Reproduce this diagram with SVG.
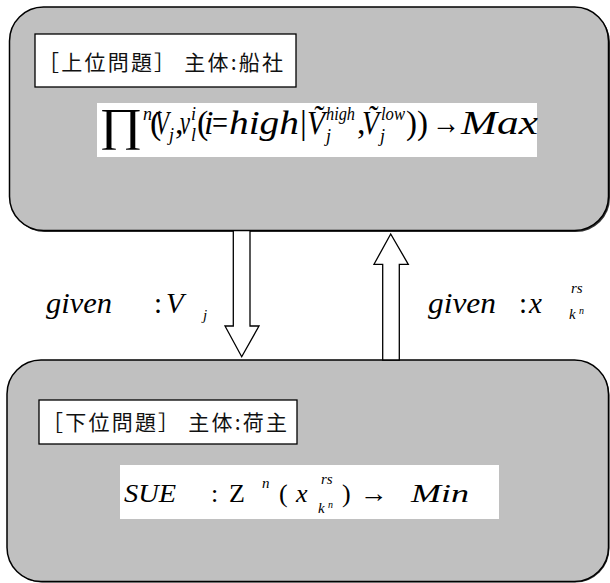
<svg xmlns="http://www.w3.org/2000/svg" width="610" height="583" viewBox="0 0 610 583">
<style>
.panel{fill:#c0c0c0;stroke:#000;stroke-width:1.5}
.shadow{fill:#333}
.lbl{fill:#fff;stroke:#000;stroke-width:1.3}
.wbox{fill:#fff;stroke:none}
.arrow{fill:#fff;stroke:#000;stroke-width:1.3;stroke-linejoin:miter}
.cjk{font-family:'Noto Sans CJK JP','Noto Sans CJK SC',sans-serif;font-size:21px;fill:#111}
.i{font-style:italic}
</style>
<g id="upper">
<rect class="shadow" x="11" y="8.5" width="599" height="223.5" rx="34"/>
<rect class="panel" x="9.5" y="7" width="599" height="223.5" rx="34"/>
<rect class="lbl" x="35" y="34" width="261" height="53"/>
<text class="cjk" x="38" y="70" textLength="245" lengthAdjust="spacing">［上位問題］ 主体:船社</text>
<rect class="wbox" x="97" y="103" width="440" height="54"/>
<text font-family="Liberation Serif, Times New Roman, serif" font-size="34" fill="#000">
<tspan x="99" y="140" font-size="46" textLength="43" lengthAdjust="spacingAndGlyphs">∏</tspan>
<tspan x="143" y="120" font-size="18" class="i">n</tspan>
<tspan x="150" y="134">(</tspan>
<tspan x="155" y="134" class="i" textLength="14" lengthAdjust="spacingAndGlyphs">V</tspan>
<tspan x="169" y="141" font-size="18" class="i">j</tspan>
<tspan x="175" y="134">,</tspan>
<tspan x="180" y="134" class="i" textLength="10" lengthAdjust="spacingAndGlyphs">v</tspan>
<tspan x="191" y="120" font-size="18" class="i">i</tspan>
<tspan x="191" y="141" font-size="18" class="i">l</tspan>
<tspan x="197" y="134">(</tspan>
<tspan x="204" y="134" class="i">i</tspan>
<tspan x="212" y="134" textLength="16" lengthAdjust="spacingAndGlyphs">=</tspan>
<tspan x="229" y="134" class="i" textLength="70" lengthAdjust="spacingAndGlyphs">high</tspan>
<tspan x="300" y="134">|</tspan>
<tspan x="307" y="134" class="i" textLength="18" lengthAdjust="spacingAndGlyphs">Ṽ</tspan>
<tspan x="326" y="120" font-size="18" class="i" textLength="29" lengthAdjust="spacingAndGlyphs">high</tspan>
<tspan x="326" y="142" font-size="18" class="i">j</tspan>
<tspan x="357" y="134">,</tspan>
<tspan x="362" y="134" class="i" textLength="17" lengthAdjust="spacingAndGlyphs">Ṽ</tspan>
<tspan x="381" y="120" font-size="18" class="i" textLength="24" lengthAdjust="spacingAndGlyphs">low</tspan>
<tspan x="380" y="142" font-size="18" class="i">j</tspan>
<tspan x="406" y="134" textLength="22" lengthAdjust="spacingAndGlyphs">))</tspan>
<tspan x="432" y="134" textLength="28" lengthAdjust="spacingAndGlyphs">→</tspan>
<tspan x="461" y="134" class="i" textLength="77" lengthAdjust="spacingAndGlyphs">Max</tspan>
</text>
</g>
<g id="lower">
<rect class="shadow" x="8.5" y="361.5" width="601" height="221" rx="34"/>
<rect class="panel" x="7" y="360" width="601.5" height="221.5" rx="34"/>
<rect class="lbl" x="39" y="400" width="258" height="44"/>
<text class="cjk" x="42" y="430" textLength="245" lengthAdjust="spacing">［下位問題］ 主体:荷主</text>
<rect class="wbox" x="120" y="465" width="379" height="54"/>
<text font-family="Liberation Serif, Times New Roman, serif" font-size="26" fill="#000">
<tspan x="124" y="502" class="i" textLength="52" lengthAdjust="spacingAndGlyphs">SUE</tspan>
<tspan x="211" y="502">:</tspan>
<tspan x="229" y="502">Z</tspan>
<tspan x="262" y="488" font-size="15" class="i">n</tspan>
<tspan x="279" y="502">(</tspan>
<tspan x="296" y="502" class="i">x</tspan>
<tspan x="321" y="484" font-size="15" class="i">rs</tspan>
<tspan x="318" y="513" font-size="15" class="i">k</tspan>
<tspan x="328" y="508" font-size="10" class="i">n</tspan>
<tspan x="342" y="502">)</tspan>
<tspan x="360" y="502" textLength="28" lengthAdjust="spacingAndGlyphs">→</tspan>
<tspan x="411" y="502" class="i" textLength="58" lengthAdjust="spacingAndGlyphs">Min</tspan>
</text>
</g>
<g id="connectors">
<polygon class="arrow" points="233.3,230.7 250,230.7 250,326 259,326 241.7,356.7 225,326 233.3,326"/>
<polygon class="arrow" points="382.7,360 382.7,264.3 374,264.3 390.7,234 408.3,264.3 399.3,264.3 399.3,360"/>
</g>
<g id="label-down">
<text font-family="Liberation Serif, Times New Roman, serif" font-size="29" fill="#000">
<tspan x="46" y="313" class="i" textLength="66" lengthAdjust="spacingAndGlyphs">given</tspan>
<tspan x="154" y="313">:</tspan>
<tspan x="166" y="313" class="i">V</tspan>
<tspan x="203" y="320" font-size="15" class="i">j</tspan>
</text>
</g>
<g id="label-up">
<text font-family="Liberation Serif, Times New Roman, serif" font-size="29" fill="#000">
<tspan x="428" y="313" class="i" textLength="68" lengthAdjust="spacingAndGlyphs">given</tspan>
<tspan x="519" y="313">:</tspan>
<tspan x="529" y="313" class="i">x</tspan>
<tspan x="571" y="293" font-size="15" class="i">rs</tspan>
<tspan x="569" y="319" font-size="15" class="i">k</tspan>
<tspan x="579" y="314" font-size="10" class="i">n</tspan>
</text>
</g>
</svg>
